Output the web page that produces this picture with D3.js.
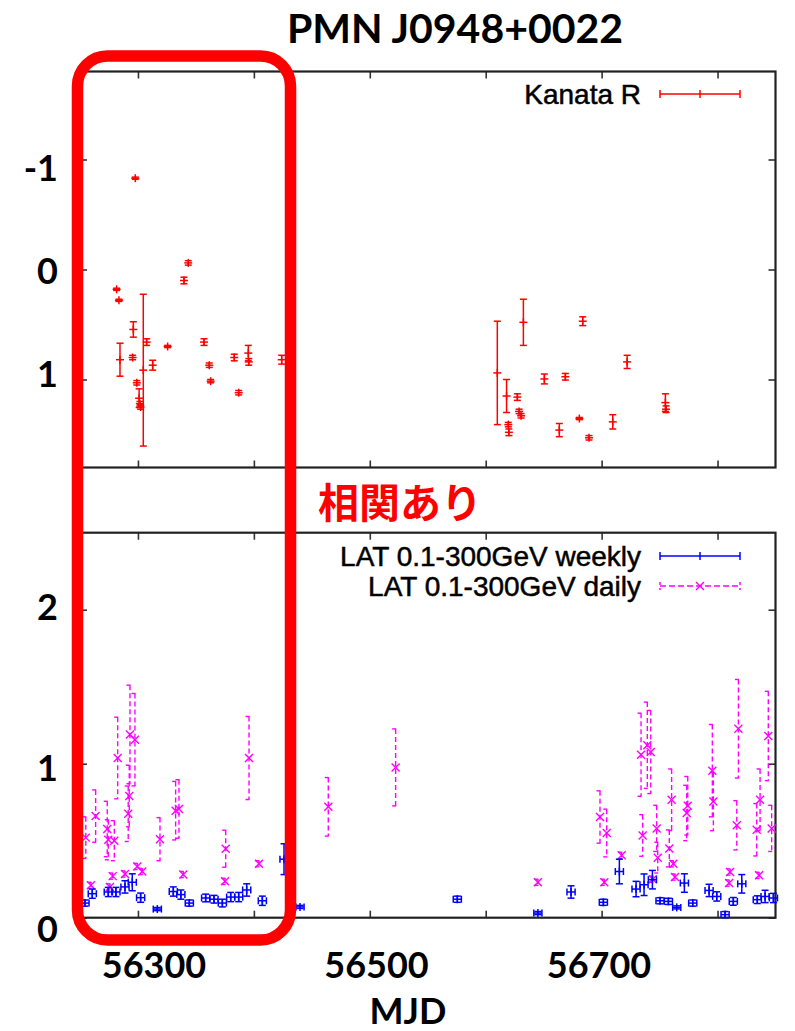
<!DOCTYPE html>
<html><head><meta charset="utf-8">
<script src="https://cdn.jsdelivr.net/npm/d3@7"></script>
<style>body{margin:0;background:#fff;} svg{display:block;}</style>
</head><body>
<svg id="c" width="795" height="1031"></svg>
<script>
// ---------- data ----------
const title = "PMN J0948+0022";
const xLabel = "MJD";
const annotation = "相関あり";
const xTicks = [56300, 56400, 56500, 56600, 56700, 56800];
const xTickLabels = [56300, 56500, 56700];
const topYTicks = [-1, 0, 1];
const botYTicks = [0, 1, 2];
const legendTop = ["Kanata R"];
const legendBottom = ["LAT 0.1-300GeV weekly", "LAT 0.1-300GeV daily"];

// Kanata R: [MJD, mag, err]
const kanataMJD = [56281.6,56283.6,56284.5,56295.4,56296.0,56297.7,56299.0,56301.0,56301.7,56302.3,56304.6,56307.5,56312.7,56325.6,56339.7,56343.4,56357.0,56361.5,56362.7,56383.1,56386.9,56395.2,56395.6,56424.0,
  56610.0,56618.0,56619.5,56620.0,56627.3,56628.8,56630.5,56632.5,56650.6,56663.5,56668.7,56680.8,56683.7,56689.1,56709.6,56722.0,56755.0,56755.6];
const kanataMag = [0.18,0.28,0.82,0.80,0.545,-0.83,1.03,1.17,1.22,1.25,0.915,0.66,0.87,0.70,0.10,-0.06,0.66,0.87,1.015,0.80,1.12,0.76,0.84,0.82,
  0.94,1.15,1.41,1.48,1.16,1.29,1.33,0.48,0.995,1.46,0.975,1.355,0.47,1.53,1.385,0.84,1.21,1.27];
const kanataErr = [0.01,0.01,0.15,0.02,0.07,0.01,0.02,0.085,0.02,0.02,0.69,0.03,0.045,0.01,0.03,0.02,0.03,0.02,0.015,0.03,0.02,0.07,0.03,0.04,
  0.47,0.15,0.02,0.03,0.03,0.02,0.02,0.21,0.045,0.06,0.03,0.01,0.04,0.02,0.065,0.06,0.08,0.03];

// LAT weekly
const weeklyMJD = [56254.3,56260.6,56274.4,56281.0,56288.8,56295.1,56302.3,56316.7,56330.5,56337.0,56344.3,56358.4,56365.6,56372.8,56380.0,56386.9,56393.8,56407.3,56426.0,56439.8,
  56575.5,56645.0,56673.6,56701.5,56715.3,56729.7,56736.6,56743.8,56750.4,56757.6,56764.8,56771.4,56778.6,56792.7,56799.3,56806.5,56813.6,56820.9,56834.3,56841.0,56848.2];
const weeklyFlux = [0.095,0.156,0.167,0.167,0.20,0.23,0.13,0.056,0.17,0.15,0.095,0.128,0.12,0.095,0.134,0.134,0.18,0.11,0.38,0.07,
  0.12,0.03,0.167,0.10,0.30,0.186,0.214,0.247,0.11,0.106,0.067,0.225,0.095,0.177,0.138,0.02,0.106,0.22,0.117,0.138,0.128];
const weeklyErr = [0.02,0.03,0.03,0.03,0.04,0.055,0.03,0.01,0.03,0.03,0.02,0.025,0.025,0.025,0.03,0.03,0.04,0.03,0.1,0.01,
  0.02,0.01,0.04,0.02,0.08,0.05,0.07,0.06,0.02,0.02,0.01,0.06,0.02,0.04,0.03,0.02,0.025,0.06,0.025,0.04,0.03];

// LAT daily
const dailyMJD = [56255.0,56259.4,56263.5,56273.5,56274.4,56275.8,56278.2,56279.6,56282.5,56288.8,56291.6,56292.5,56293.1,56297.4,56299.4,56303.7,56319.0,56332.5,56335.4,56339.1,56375.1,56375.7,56395.8,56404.4,
  56464.2,56522.3,56645.0,56698.6,56702.3,56704.4,56717.3,56734.0,56735.4,56739.4,56742.4,56744.1,56747.5,56748.4,56758.4,56760.4,56761.9,56763.3,56773.4,56774.3,56795.5,56796.4,56810.0,56810.8,56816.6,56818.0,56833.8,56835.8,56836.7,56843.8,56846.7];
const dailyFlux = [0.52,0.21,0.66,0.576,0.506,0.20,0.27,0.50,1.037,0.284,0.675,0.79,1.19,1.156,0.333,0.30,0.51,0.695,0.706,0.28,0.236,0.448,1.037,0.35,
  0.72,0.976,0.23,0.654,0.23,0.55,0.405,1.058,0.534,1.12,1.076,0.25,0.58,0.39,0.45,0.766,0.35,0.264,0.68,0.727,0.955,0.755,0.225,0.297,0.60,1.227,0.571,0.275,0.766,1.18,0.58];
const dailyErr = [0.135,0.02,0.17,0.18,0.13,0.02,0.02,0.13,0.265,0.02,0.18,0.2,0.32,0.3,0.02,0.02,0.14,0.19,0.19,0.02,0.02,0.12,0.27,0.02,
  0.19,0.25,0.02,0.17,0.02,0.155,0.02,0.27,0.135,0.28,0.27,0.02,0.15,0.1,0.12,0.2,0.02,0.02,0.18,0.19,0.3,0.19,0.02,0.02,0.16,0.32,0.17,0.02,0.2,0.29,0.15];

// ---------- drawing ----------
const svg = d3.select("#c");
const W = 795, H = 1031;
svg.append("rect").attr("width", W).attr("height", H).attr("fill", "#fff");

const x = d3.scaleLinear().domain([56250, 56850]).range([80, 775.5]);
const yTop = d3.scaleLinear().domain([-1.8, 1.8]).range([71.5, 467.5]);
const yBot = d3.scaleLinear().domain([0, 2.5]).range([917.7, 532.7]);

// label position scales (overlay labels)
const xLab = d3.scaleLinear().domain([56300, 56700]).range([154, 599]);
const yTopLab = d3.scaleLinear().domain([-1, 1]).range([168, 374]);
const yBotLab = d3.scaleLinear().domain([0, 2]).range([929, 607]);

const BIG = "Lato, 'Open Sans', sans-serif";
const SANS = "'Liberation Sans', Arial, sans-serif";

function frame(yS, yTicks) {
  const r = yS.range();
  const yb = Math.max(r[0], r[1]), yt = Math.min(r[0], r[1]);
  const [xl, xr] = x.range();
  const g = svg.append("g");
  const ax = [
    [d3.axisBottom(x).tickValues(xTicks), `translate(0,${yb})`],
    [d3.axisTop(x).tickValues(xTicks), `translate(0,${yt})`],
    [d3.axisLeft(yS).tickValues(yTicks), `translate(${xl},0)`],
    [d3.axisRight(yS).tickValues(yTicks), `translate(${xr},0)`]
  ];
  ax.forEach(([a, t]) => {
    const gg = g.append("g").attr("transform", t)
      .call(a.tickSizeInner(-7).tickSizeOuter(0).tickFormat(""));
    gg.select(".domain").remove();
    gg.selectAll(".tick line").attr("stroke", "#333").attr("stroke-width", 1.6);
  });
  g.append("rect").attr("x", xl).attr("y", yt).attr("width", xr - xl).attr("height", yb - yt)
    .attr("fill", "none").attr("stroke", "#222").attr("stroke-width", 2.2);
}
frame(yTop, topYTicks);
frame(yBot, botYTicks);

// ---- Kanata R ----
const kan = kanataMJD.map((m, i) => ({m, v: kanataMag[i], e: kanataErr[i]}));
const gk = svg.append("g").attr("stroke", "#ff0000").attr("stroke-width", 1.5).attr("fill", "none");
kan.forEach(d => {
  const cx = x(d.m), cy = yTop(d.v), ya = yTop(d.v - d.e), yb = yTop(d.v + d.e);
  gk.append("line").attr("x1", cx).attr("x2", cx).attr("y1", ya).attr("y2", yb);
  gk.append("line").attr("x1", cx - 3.5).attr("x2", cx + 3.5).attr("y1", ya).attr("y2", ya);
  gk.append("line").attr("x1", cx - 3.5).attr("x2", cx + 3.5).attr("y1", yb).attr("y2", yb);
  gk.append("line").attr("x1", cx - 4).attr("x2", cx + 4).attr("y1", cy).attr("y2", cy);
  gk.append("line").attr("x1", cx).attr("x2", cx).attr("y1", cy - 4).attr("y2", cy + 4);
});

// ---- daily (magenta dashed, x markers) ----
const day = dailyMJD.map((m, i) => ({m, v: dailyFlux[i], e: dailyErr[i]}));
const gd = svg.append("g").attr("stroke", "#ff00ff").attr("stroke-width", 1.4).attr("fill", "none");
day.forEach(d => {
  const cx = x(d.m), cy = yBot(d.v), ya = yBot(d.v + d.e), yb = yBot(d.v - d.e);
  gd.append("line").attr("x1", cx).attr("x2", cx).attr("y1", ya).attr("y2", yb).attr("stroke-dasharray", "5,3");
  gd.append("line").attr("x1", cx - 3.5).attr("x2", cx + 3.5).attr("y1", ya).attr("y2", ya).attr("stroke-dasharray", "4,3");
  gd.append("line").attr("x1", cx - 3.5).attr("x2", cx + 3.5).attr("y1", yb).attr("y2", yb).attr("stroke-dasharray", "4,3");
  gd.append("line").attr("x1", cx - 4).attr("x2", cx + 4).attr("y1", cy - 4).attr("y2", cy + 4);
  gd.append("line").attr("x1", cx - 4).attr("x2", cx + 4).attr("y1", cy + 4).attr("y2", cy - 4);
});

// ---- weekly (blue xy errorbars) ----
const wk = weeklyMJD.map((m, i) => ({m, v: weeklyFlux[i], e: weeklyErr[i]}));
const gw = svg.append("g").attr("stroke", "#0000ff").attr("stroke-width", 1.5).attr("fill", "none");
wk.forEach(d => {
  const cx = x(d.m), cy = yBot(d.v), ya = yBot(d.v + d.e), yb = yBot(d.v - d.e);
  const xa = x(d.m - 3.5), xb = x(d.m + 3.5);
  gw.append("line").attr("x1", cx).attr("x2", cx).attr("y1", ya).attr("y2", yb);
  gw.append("line").attr("x1", cx - 3.5).attr("x2", cx + 3.5).attr("y1", ya).attr("y2", ya);
  gw.append("line").attr("x1", cx - 3.5).attr("x2", cx + 3.5).attr("y1", yb).attr("y2", yb);
  gw.append("line").attr("x1", xa).attr("x2", xb).attr("y1", cy).attr("y2", cy);
  gw.append("line").attr("x1", xa).attr("x2", xa).attr("y1", cy - 3.5).attr("y2", cy + 3.5);
  gw.append("line").attr("x1", xb).attr("x2", xb).attr("y1", cy - 3.5).attr("y2", cy + 3.5);
  gw.append("line").attr("x1", cx).attr("x2", cx).attr("y1", cy - 4).attr("y2", cy + 4);
});

// ---- legends ----
function legendSample(y, color, dashed, marker, capDash) {
  const g = svg.append("g").attr("stroke", color).attr("stroke-width", 1.5).attr("fill", "none");
  const x1 = 660, x2 = 740, cx = 700;
  const l = g.append("line").attr("x1", x1).attr("x2", x2).attr("y1", y).attr("y2", y);
  if (dashed) l.attr("stroke-dasharray", "6,3");
  [x1, x2].forEach(xx => {
    const c = g.append("line").attr("x1", xx).attr("x2", xx).attr("y1", y - 4).attr("y2", y + 4);
    if (capDash) c.attr("stroke-dasharray", "3,3");
  });
  if (marker === "+") {
    g.append("line").attr("x1", cx).attr("x2", cx).attr("y1", y - 4).attr("y2", y + 4);
  } else {
    g.append("line").attr("x1", cx - 4).attr("x2", cx + 4).attr("y1", y - 4).attr("y2", y + 4);
    g.append("line").attr("x1", cx - 4).attr("x2", cx + 4).attr("y1", y + 4).attr("y2", y - 4);
  }
}
function legendText(y, txt) {
  svg.append("text").attr("x", 641).attr("y", y + 10).attr("text-anchor", "end")
    .attr("font-family", SANS).attr("font-size", 28).attr("fill", "#000")
    .attr("stroke", "#000").attr("stroke-width", 0.5).text(txt);
}
legendText(94, legendTop[0]); legendSample(94, "#ff0000", false, "+", false);
legendText(556, legendBottom[0]); legendSample(556, "#0000ff", false, "+", false);
legendText(586, legendBottom[1]); legendSample(586, "#ff00ff", true, "x", true);

// ---- big labels ----
const big = (xx, yy, t, anchor) => svg.append("text").attr("x", xx).attr("y", yy)
  .attr("text-anchor", anchor).attr("font-family", BIG).attr("font-weight", 700)
  .attr("font-size", 36).attr("fill", "#000").text(t);

topYTicks.forEach(v => big(58, yTopLab(v) + 13, d3.format("d")(v).replace("−", "-"), "end"));
botYTicks.forEach(v => big(58, yBotLab(v) + 13, String(v), "end"));
xTickLabels.forEach(v => big(xLab(v), 978, String(v), "middle"));
big(408, 1024, xLabel, "middle");

svg.append("text").attr("x", 455).attr("y", 43).attr("text-anchor", "middle")
  .attr("font-family", BIG).attr("font-weight", 700).attr("font-size", 41).attr("fill", "#000").text(title);

// ---- annotation ----
svg.append("rect").attr("x", 77.5).attr("y", 56).attr("width", 213).attr("height", 884)
  .attr("rx", 30).attr("ry", 30).attr("fill", "none").attr("stroke", "#ff0000").attr("stroke-width", 11.5);
svg.append("text").attr("x", 400).attr("y", 500).attr("text-anchor", "middle")
  .attr("dominant-baseline", "central")
  .attr("font-family", "'Noto Sans CJK JP', sans-serif").attr("font-weight", 700)
  .attr("font-size", 41).attr("fill", "#ff0000").text(annotation);
</script>
</body></html>
